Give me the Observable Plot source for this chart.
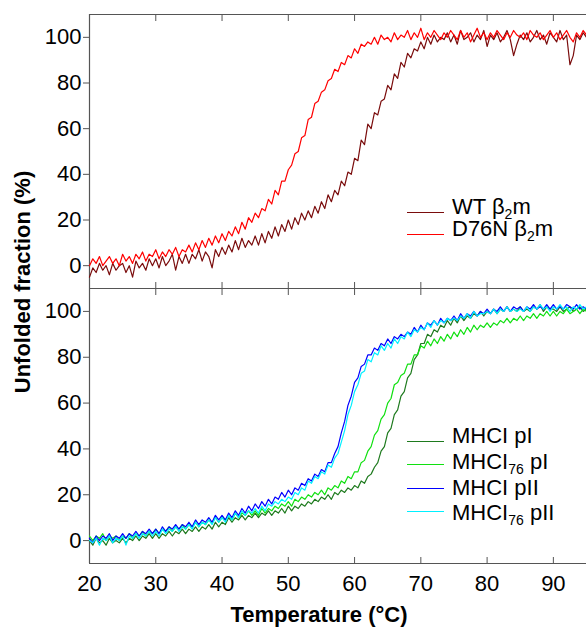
<!DOCTYPE html>
<html><head><meta charset="utf-8">
<script src="https://cdn.jsdelivr.net/npm/d3@7"></script>
<script src="https://cdn.jsdelivr.net/npm/@observablehq/plot@0.6"></script>
<style>
body{margin:0;background:#fff;}
#fig{position:relative;width:586px;height:627px;font-family:Arial,"Liberation Sans",sans-serif;color:#000;overflow:hidden;background:#fff}
#fig svg{position:absolute;left:0;overflow:visible}
.leg{position:absolute;font-size:22px;line-height:22px;white-space:nowrap}
.sw{position:absolute;width:37px;height:0}
.sub{font-size:14px;position:relative;top:5px}
.title{position:absolute;font-weight:bold;font-size:22px;line-height:22px;white-space:nowrap;transform:translate(-50%,-50%)}
</style></head><body><div id="fig"></div>
<script>
// Temperature (°C) sampling points
const temperature = [20,20.5,21,21.5,22,22.5,23,23.5,24,24.5,25,25.5,26,26.5,27,27.5,28,28.5,29,29.5,
30,30.5,31,31.5,32,32.5,33,33.5,34,34.5,35,35.5,36,36.5,37,37.5,38,38.5,39,39.5,
40,40.5,41,41.5,42,42.5,43,43.5,44,44.5,45,45.5,46,46.5,47,47.5,48,48.5,49,49.5,
50,50.5,51,51.5,52,52.5,53,53.5,54,54.5,55,55.5,56,56.5,57,57.5,58,58.5,59,59.5,
60,60.5,61,61.5,62,62.5,63,63.5,64,64.5,65,65.5,66,66.5,67,67.5,68,68.5,69,69.5,
70,70.5,71,71.5,72,72.5,73,73.5,74,74.5,75,75.5,76,76.5,77,77.5,78,78.5,79,79.5,
80,80.5,81,81.5,82,82.5,83,83.5,84,84.5,85,85.5,86,86.5,87,87.5,88,88.5,89,89.5,
90,90.5,91,91.5,92,92.5,93,93.5,94,94.5,95];

// Top panel: unfolded fraction (%)
const wtB2m = [-5,-1,-3,1,-2,0,-4,1,-2,0, 1,-3,0,-5,2,-1,1,-2,3,0, 3,-1,4,0,2,5,-2,4,1,5, 1,5,3,7,2,6,4,-1,7,4,
8,5,9,6,11,7,12,8,11,9, 13,9,14,10,15,12,17,13,18,15, 20,16,21,18,23,20,24,21,26,23, 28,25,31,28,33,31,37,35,41,40,
47,46,55,53,62,60,67,66,72,73, 79,77,84,82,89,87,93,91,95,94, 98,95,100,97,101,98,100,99,102,98, 101,97,103,99,100,102,98,101,99,103,
96,101,99,102,98,100,103,99,92,97, 101,99,102,98,100,103,99,101,97,102, 100,98,103,99,101,88,92,101,99,102, 100];
const d76nB2m = [0,3,1,4,0,2,4,1,3,0, 5,2,4,1,5,3,6,2,5,4, 7,3,6,4,7,5,8,4,7,6, 9,6,10,7,11,8,12,9,13,10,
14,11,15,13,17,14,19,16,21,19, 23,21,25,24,29,27,33,31,37,37, 42,44,49,50,56,57,64,65,71,72, 76,77,81,82,86,85,89,88,92,91,
95,93,97,96,98,97,100,97,101,99, 100,98,102,99,101,100,103,99,102,100, 104,99,102,100,103,101,99,102,100,103, 101,99,103,100,102,98,101,104,100,102,
99,102,100,103,101,99,102,100,103,101, 100,102,99,103,101,100,102,99,101,103, 100,102,99,101,103,100,98,102,100,103, 101];

// Bottom panel: unfolded fraction (%)
const mhcPI = [0,-2,1,-1,0,-2,1,-1,0,-1, 1,-1,1,0,2,0,2,1,3,1, 3,1,3,2,4,2,4,3,5,3, 5,4,6,4,6,5,7,5,8,6,
8,7,10,8,10,9,11,9,11,10, 12,10,12,11,13,11,13,12,14,12, 15,13,15,14,16,15,17,16,18,17, 19,18,20,18,21,20,22,21,23,22,
24,23,26,25,28,29,32,34,39,41, 47,49,55,57,63,65,71,73,79,81, 86,86,90,89,92,91,94,93,96,94, 97,95,98,96,98,97,99,98,100,98,
100,99,101,99,101,100,102,100,101,100, 102,100,101,100,102,101,103,100,102,101, 101,100,102,100,101,102,100,101,102,100, 101];
const mhc76PI = [2,0,2,1,3,0,2,1,2,0, 2,1,3,1,3,2,4,2,4,3, 5,3,5,4,6,4,6,5,7,5, 7,6,8,6,8,7,9,8,10,8,
10,9,11,9,12,10,12,11,13,11, 13,11,14,12,14,13,15,14,16,15, 17,15,18,17,19,18,20,19,21,20, 22,20,23,22,24,23,26,25,28,27,
30,30,34,35,39,41,46,48,53,55, 60,62,68,69,72,73,77,77,81,81, 85,84,87,85,88,86,89,87,90,88, 91,89,92,90,93,91,94,92,94,93,
95,93,95,94,96,95,97,95,97,96, 98,96,98,97,99,97,99,98,100,98, 100,98,100,99,101,99,100,101,99,101, 100];
const mhcPII = [1,-1,2,0,2,1,3,0,2,1, 3,1,3,2,4,2,4,3,5,3, 5,3,6,4,6,5,7,5,7,6, 8,6,9,7,9,8,10,8,11,9,
11,9,12,10,13,11,14,12,15,13, 16,14,17,15,18,16,19,18,21,19, 22,20,23,22,25,24,27,26,29,28, 31,30,34,34,38,41,47,52,59,63,
69,71,76,77,81,81,84,83,86,85, 88,86,89,88,90,89,91,90,93,91, 94,92,95,94,96,94,97,95,97,96, 98,96,99,97,99,98,100,98,100,99,
101,99,101,100,102,100,102,100,102,101, 102,100,102,101,103,101,102,101,103,101, 103,101,102,101,103,102,101,103,101,102, 101];
const mhc76PII = [0,-1,1,-2,1,0,2,-1,1,0, 2,-2,2,1,3,1,3,2,4,2, 4,2,5,3,5,4,6,4,6,5, 7,5,8,6,8,7,9,7,10,8,
10,8,11,9,12,10,13,11,13,12, 14,12,15,13,16,15,17,16,18,17, 19,18,21,20,23,22,26,25,28,27, 30,29,33,32,36,38,43,48,55,59,
65,68,73,74,79,78,82,81,85,83, 86,84,88,86,89,88,91,89,92,91, 93,92,95,93,96,94,96,95,97,96, 97,96,98,97,99,97,100,98,99,99,
100,99,101,99,101,100,102,100,101,100, 101,100,102,100,102,101,103,101,102,100, 102,101,103,101,102,100,102,101,103,101, 102];

const xTicks = [20,30,40,50,60,70,80,90];
const yTicks = [0,20,40,60,80,100];
const xDomain = [20,95];
const yDomain = [-10,110];

const topSeries = [
  {name:"WT β2m", values: wtB2m, color:"#7a0c0c"},
  {name:"D76N β2m", values: d76nB2m, color:"#ff0000"}
];
const bottomSeries = [
  {name:"MHCI pI", values: mhcPI, color:"#1e7a1e"},
  {name:"MHCI76 pI", values: mhc76PI, color:"#10e010"},
  {name:"MHCI pII", values: mhcPII, color:"#0000ff"},
  {name:"MHCI76 pII", values: mhc76PII, color:"#00f0ff"}
];

const frameColor = "#555";
function rows(values){ return temperature.map((t,i)=>({t, v: values[i]})); }

function panel(series, {height, marginTop, marginBottom, xLabels}) {
  const marks = [
    Plot.ruleY([yDomain[0], yDomain[1]], {stroke: frameColor, strokeWidth: 1.2}),
    Plot.ruleX([xDomain[0]], {stroke: frameColor, strokeWidth: 1.2}),
    Plot.axisY(yTicks, {anchor:"left", tickSize:6, tickPadding:2, fontSize:22, stroke:frameColor, fill:"#000", label:null}),
    Plot.axisX(xTicks, {anchor:"top", tickSize:6, dy:6, fill:"none", stroke:frameColor, label:null}),
    Plot.axisX(xTicks, {anchor:"bottom", tickSize:6, dy:-6, fill:"none", stroke:frameColor, label:null}),
    ...series.map(s => Plot.line(rows(s.values), {x:"t", y:"v", stroke:s.color, strokeWidth:1.2}))
  ];
  if (xLabels) marks.push(Plot.axisX(xTicks, {anchor:"bottom", tickSize:0, tickPadding:12, fontSize:22, fill:"#000", label:null}));
  return Plot.plot({
    width:586, height, marginTop, marginBottom, marginLeft:89, marginRight:0,
    x:{domain:xDomain}, y:{domain:yDomain},
    style:{background:"transparent", overflow:"visible", fontFamily:"Arial, 'Liberation Sans', sans-serif"},
    marks
  });
}

const fig = document.getElementById("fig");
const top1 = panel(topSeries, {height:294, marginTop:14, marginBottom:6, xLabels:false});
top1.style.top = "0px";
const bot = panel(bottomSeries, {height:345, marginTop:6, marginBottom:64, xLabels:true});
bot.style.top = "282px";
fig.appendChild(top1);
fig.appendChild(bot);

function label(name){
  const m = name.match(/^(.*?)(β)(2)(m)$/);
  if (m) return `${m[1]}${m[2]}<span class="sub">${m[3]}</span>${m[4]}`;
  const k = name.match(/^(MHCI)(76)( .*)$/);
  if (k) return `${k[1]}<span class="sub">${k[2]}</span>${k[3]}`;
  return name;
}
function legend(series, textTops, lineTops){
  series.forEach((s,i)=>{
    const sw = document.createElement("div");
    sw.className = "sw";
    sw.style.left = "407px"; sw.style.top = lineTops[i] + "px";
    sw.style.borderTop = `1.3px solid ${s.color}`;
    fig.appendChild(sw);
    const t = document.createElement("div");
    t.className = "leg";
    t.style.left = "452px"; t.style.top = textTops[i] + "px";
    t.innerHTML = label(s.name);
    fig.appendChild(t);
  });
}
legend(topSeries, [196, 218], [212, 234]);
legend(bottomSeries, [425, 451, 477, 502], [441, 464, 488, 511]);

const xt = document.createElement("div");
xt.className = "title"; xt.textContent = "Temperature (°C)";
xt.style.left = "319px"; xt.style.top = "615px";
fig.appendChild(xt);
const yt = document.createElement("div");
yt.className = "title"; yt.textContent = "Unfolded fraction (%)";
yt.style.left = "23px"; yt.style.top = "282px";
yt.style.transform = "translate(-50%,-50%) rotate(-90deg)";
fig.appendChild(yt);
</script></body></html>
